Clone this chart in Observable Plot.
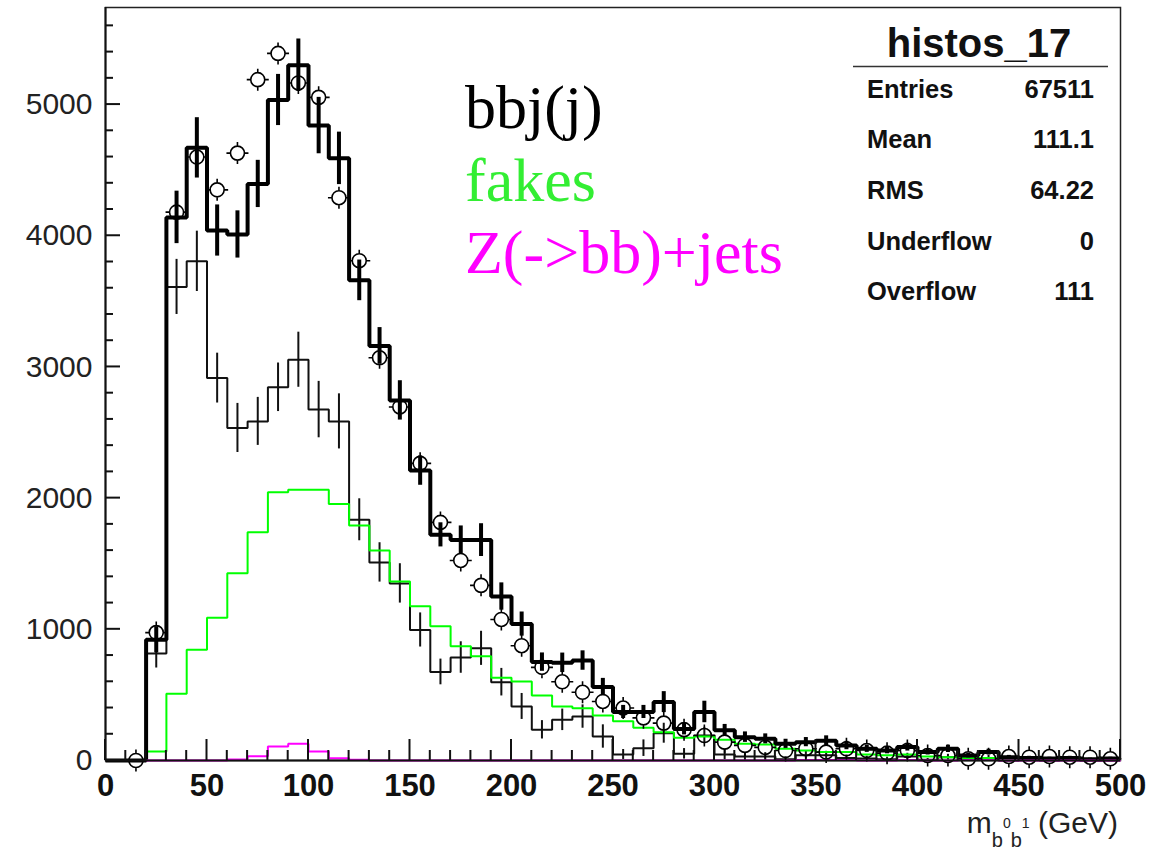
<!DOCTYPE html>
<html><head><meta charset="utf-8">
<script src="https://cdn.jsdelivr.net/npm/d3@7"></script>
<script src="https://cdn.jsdelivr.net/npm/@observablehq/plot@0.6"></script>
<style>
html,body{margin:0;padding:0;background:#fff;}
#chart{width:1162px;height:850px;overflow:hidden;}
g[aria-label="x-axis tick label"]{font-weight:bold;}
</style></head><body><div id="chart"></div>
<script>
// ---- data (50 bins of 10 GeV) ----
const binLow = d3.range(0, 500, 10);
const bbjj = [0,0,920,4140,4670,4040,4010,4395,5035,5300,
  4840,4590,3660,3160,2745,2210,1720,1680,1680,1250,
  1040,750,745,762,560,370,370,445,240,370,
  230,178,165,127,140,150,114,90,76,102,
  64,89,38,64,25,20,15,20,10,15];
const bbjjErr = [0,0,100,200,230,195,180,180,195,200,
  215,200,155,140,150,112,92,108,125,104,
  92,70,74,74,66,50,50,80,45,82,
  45,40,38,35,35,38,32,28,25,30,
  22,28,18,22,14,12,10,12,8,10];
const points = [null,0,975,4180,4600,4350,4630,5190,5390,5165,
  5055,4290,3810,3070,2695,2265,1815,1525,1335,1075,
  875,710,600,520,450,400,325,285,235,190,
  140,115,100,76,90,64,89,76,56,76,
  38,38,13,13,30,25,30,25,25,13];
const thin = [0,0,815,3610,3805,2915,2535,2585,2845,3055,
  2675,2585,1835,1510,1350,995,675,785,855,597,
  412,234,310,335,183,46,94,208,51,190,
  46,30,30,10,40,40,20,15,10,30,
  5,25,5,20,0,5,0,5,0,0];
const thinErr = [0,0,110,210,230,190,187,183,185,210,
  215,210,160,150,150,130,98,120,130,105,
  99,70,82,89,89,38,63,76,40,63,
  40,30,30,18,30,30,22,18,15,25,
  10,22,10,20,0,10,0,10,0,0];
const fakes = [null,null,69,508,844,1088,1428,1740,2045,2063,
  2063,1956,1791,1601,1364,1176,1024,871,795,630,
  602,495,412,399,343,300,249,216,173,183,
  158,127,122,89,76,64,64,45,40,46,
  30,25,20,20,15,10,10,5,5,5];
const zbb = [null,null,0,0,0,0,8,33,107,127,
  69,18,6,0,0,0,0,0,0,0,
  0,0,0,0,0,0,0,0,0,0,
  0,0,0,0,3,3,3,0,0,3,
  0,0,3,3,0,0,0,0,0,0];
const xTicks = [0,50,100,150,200,250,300,350,400,450,500];
const xMinor = d3.range(10, 500, 10).filter(d => d % 50 !== 0);
const yTicks = [0,1000,2000,3000,4000,5000];
const yMinor = d3.range(200, 5740, 200).filter(d => d % 1000 !== 0);
const legendLabels = ["bbj(j)", "fakes", "Z(->bb)+jets"];
const legendColors = ["#000000", "#33ee33", "#ff00ff"];
const statsTitle = "histos_17";
const statsNames = ["Entries","Mean","RMS","Underflow","Overflow"];
const statsValues = ["67511","111.1","64.22","0","111"];

// ---- helpers ----
function steps(vals){
  const d = binLow.map((x,i)=>({x, y: vals[i]}));
  d.push({x: 500, y: vals[vals.length-1]});
  return d;
}
function errs(vals, e){
  return binLow.map((x,i)=>({x: x+5, y1: vals[i]-e[i], y2: vals[i]+e[i], e: e[i]})).filter(d=>d.e>0);
}
const circTick = {
  draw(ctx, size){
    const r = Math.sqrt(size/Math.PI), t = 4;
    ctx.moveTo(r,0); ctx.arc(0,0,r,0,2*Math.PI);
    ctx.moveTo(0,-r); ctx.lineTo(0,-r-t);
    ctx.moveTo(0,r); ctx.lineTo(0,r+t);
    ctx.moveTo(-r,0); ctx.lineTo(-r-t,0);
    ctx.moveTo(r,0); ctx.lineTo(r+t,0);
  }
};

const W=1162, H=850, mL=105, mR=42, mT=7, mB=90;
const common = {strokeLinejoin:"miter", strokeLinecap:"butt"};

const plot = Plot.plot({
  width: W, height: H,
  marginLeft: mL, marginRight: mR, marginTop: mT, marginBottom: mB,
  x: {domain: [0, 500]},
  y: {domain: [0, 5740]},
  style: {fontFamily: "'Liberation Sans', Arial, sans-serif", background: "#fff", color: "#111"},
  marks: [
    Plot.frame({stroke: "#222", strokeWidth: 1.5}),
    Plot.axisX({ticks: xTicks, tickSize: 0, tickPadding: 13, fontSize: 31, label: null, tickFormat: d => String(d), fill: "#111"}),
    Plot.axisY({ticks: yTicks, tickSize: 0, tickPadding: 13, fontSize: 30, label: null, tickFormat: d => String(d), fill: "#222"}),
    Plot.line(steps(thin), {x: "x", y: "y", curve: "step-after", stroke: "#111", strokeWidth: 2, ...common}),
    Plot.ruleX(errs(thin, thinErr), {x: "x", y1: "y1", y2: "y2", stroke: "#111", strokeWidth: 2}),
    Plot.line(steps(fakes), {x: "x", y: "y", curve: "step-after", stroke: "#00ff00", strokeWidth: 2, ...common}),
    Plot.line(steps(bbjj), {x: "x", y: "y", curve: "step-after", stroke: "#000", strokeWidth: 4, ...common}),
    Plot.ruleX(errs(bbjj, bbjjErr), {x: "x", y1: "y1", y2: "y2", stroke: "#000", strokeWidth: 4}),
    Plot.line(steps(zbb), {x: "x", y: "y", curve: "step-after", stroke: "#ff00ff", strokeWidth: 2, ...common}),
    Plot.dot(binLow.map((x,i)=>({x: x+5, y: points[i]})).filter(d=>d.y!=null),
      {x: "x", y: "y", r: 7, symbol: circTick, stroke: "#000", strokeWidth: 1.6, fill: "none"}),
    Plot.ruleX([0], {stroke: "#111", strokeWidth: 2}),
    Plot.ruleY([0], {stroke: "#111", strokeWidth: 2})
  ]
});

const svg = d3.select(plot);
const sx = plot.scale("x"), sy = plot.scale("y");
const y0 = sy.apply(0), x0 = sx.apply(0);
// axis ticks (inward, ROOT style)
const tk = svg.append("g").attr("stroke", "#111").attr("stroke-width", 2);
xMinor.forEach(v => { const px = sx.apply(v); tk.append("line").attr("x1", px).attr("x2", px).attr("y1", y0).attr("y2", y0-10); });
xTicks.forEach(v => { const px = sx.apply(v); tk.append("line").attr("x1", px).attr("x2", px).attr("y1", y0).attr("y2", y0-21); });
yMinor.forEach(v => { const py = sy.apply(v); tk.append("line").attr("x1", x0).attr("x2", x0+8).attr("y1", py).attr("y2", py); });
yTicks.forEach(v => { const py = sy.apply(v); tk.append("line").attr("x1", x0).attr("x2", x0+15).attr("y1", py).attr("y2", py); });

const sans = "'Liberation Sans', Arial, sans-serif";
// legend texts
const legBase = [128, 201, 273];
legendLabels.forEach((t,i)=>{
  svg.append("text").attr("x", 465).attr("y", legBase[i]).attr("text-anchor", "start")
    .attr("font-family", "'Liberation Serif', 'Times New Roman', serif")
    .attr("font-size", 62).attr("fill", legendColors[i]).text(t);
});
// stats box
svg.append("text").attr("x", 979).attr("y", 57).attr("text-anchor", "middle")
  .attr("font-family", sans).attr("font-weight", "bold")
  .attr("font-size", 40).attr("fill", "#111").text(statsTitle);
svg.append("line").attr("x1", 853).attr("x2", 1108).attr("y1", 66.5).attr("y2", 66.5)
  .attr("stroke", "#333").attr("stroke-width", 1.5);
const rowBase = [97.5, 148, 199, 249.5, 300];
statsNames.forEach((n,i)=>{
  svg.append("text").attr("x", 867).attr("y", rowBase[i]).attr("text-anchor", "start")
    .attr("font-family", sans).attr("font-weight", "bold")
    .attr("font-size", 25.5).attr("fill", "#111").text(n);
  svg.append("text").attr("x", 1094).attr("y", rowBase[i]).attr("text-anchor", "end")
    .attr("font-family", sans).attr("font-weight", "bold")
    .attr("font-size", 25.5).attr("fill", "#111").text(statsValues[i]);
});
// x-axis title
const xt = svg.append("text").attr("x", 1118).attr("y", 833).attr("text-anchor", "end")
  .attr("font-family", sans).attr("font-size", 30).attr("fill", "#222");
xt.append("tspan").text("m");
xt.append("tspan").attr("font-size", 20).attr("dy", 14).text("b");
xt.append("tspan").attr("font-size", 14).attr("dy", -19).text("0");
xt.append("tspan").attr("font-size", 20).attr("dy", 19).text("b");
xt.append("tspan").attr("font-size", 14).attr("dy", -19).text("1");
xt.append("tspan").attr("font-size", 30).attr("dy", 5).text(" (GeV)");

document.getElementById("chart").appendChild(plot);
</script></body></html>
